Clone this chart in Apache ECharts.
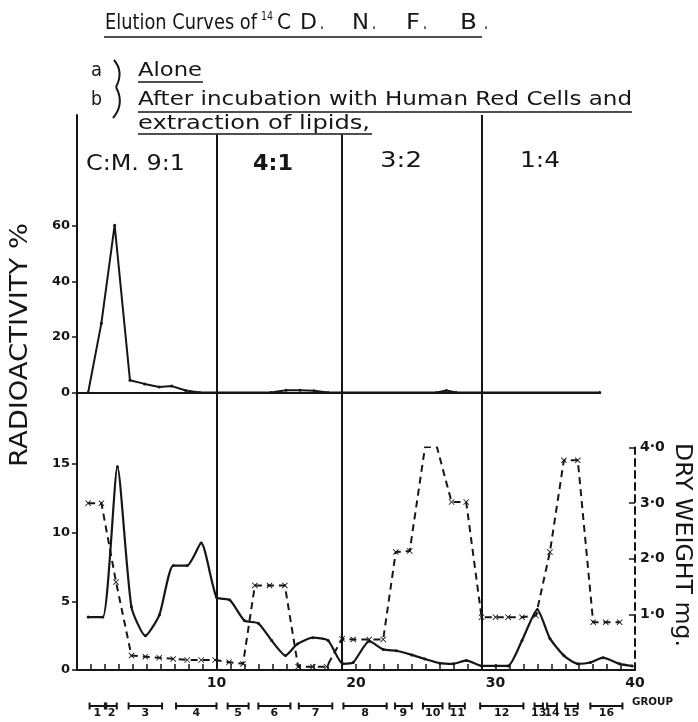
<!DOCTYPE html>
<html><head><meta charset="utf-8">
<script src="https://cdn.jsdelivr.net/npm/echarts@6/dist/echarts.min.js"></script>
<style>html,body{margin:0;padding:0;background:#fff}#c{width:698px;height:722px}</style>
</head><body><div id="c"></div>
<script>
// ---- data ----
// (a) alone: radioactivity % (upper panel)
const upperX = [0.8, 1.75, 2.7, 3.8, 4.85, 5.9, 6.8, 7.8, 8.8, 13.9, 15, 16, 17, 18, 25.8, 26.5, 27.2, 37.5];
const upperY = [0, 25, 60.3, 4.4, 3.1, 2.0, 2.3, 0.7, 0, 0, 0.8, 0.8, 0.6, 0, 0, 0.7, 0, 0];
// (b) after incubation: radioactivity % (lower panel, solid)
const solidX = [0.8, 1.85, 2.9, 3.9, 4.9, 5.9, 6.9, 7.9, 8.9, 10.0, 10.95, 12.0, 13.0, 13.95, 14.95, 15.8, 16.9, 18.0, 19.05, 19.8, 20.95, 21.95, 22.9, 24.0, 24.95, 26.0, 27.0, 27.9, 29.0, 30.0, 30.9, 31.9, 33.0, 33.9, 34.9, 35.9, 36.8, 37.7, 38.9, 39.8];
const solidY = [3.85, 3.85, 14.8, 4.6, 2.5, 4.0, 7.6, 7.6, 9.25, 5.3, 5.1, 3.6, 3.4, 2.15, 1.05, 1.9, 2.35, 2.15, 0.45, 0.55, 2.1, 1.5, 1.4, 1.1, 0.8, 0.5, 0.45, 0.7, 0.3, 0.3, 0.3, 2.15, 4.4, 2.3, 1.05, 0.45, 0.55, 0.9, 0.45, 0.3];
// dry weight mg (lower panel, dashed, right axis)
const dryX = [0.8, 1.75, 2.8, 3.9, 4.9, 5.9, 6.9, 7.9, 8.9, 9.9, 10.9, 11.9, 12.75, 13.8, 14.9, 15.85, 16.9, 17.9, 19.0, 19.8, 20.95, 21.95, 22.85, 23.85, 24.95, 25.8, 26.85, 27.9, 29.0, 30.0, 30.9, 31.9, 32.9, 33.9, 34.9, 35.9, 37.0, 37.9, 38.9];
const dryY = [3.0, 3.0, 1.58, 0.26, 0.24, 0.22, 0.2, 0.18, 0.18, 0.18, 0.14, 0.11, 1.52, 1.52, 1.52, 0.06, 0.06, 0.06, 0.56, 0.55, 0.55, 0.55, 2.12, 2.14, 4.01, 4.01, 3.02, 3.02, 0.95, 0.95, 0.95, 0.95, 0.98, 2.12, 3.77, 3.77, 0.86, 0.86, 0.86];
// solvent change dividers (fraction number) and their top (upper-panel units)
const dividerX = [10, 19, 29];
const dividerTop = [93, 93, 100];
const sectionLabels = ['C:M. 9:1', '4:1', '3:2', '1:4'];
// fraction groups
const groupNames = ['1','2','3','4','5','6','7','8','9','10','11','12','13','14','15','16'];
const groupStart = [0.9, 2.1, 3.7, 7.1, 10.8, 13.0, 15.9, 19.1, 22.8, 24.8, 26.7, 28.9, 32.8, 33.7, 35.0, 36.8];
const groupEnd   = [2.0, 2.85, 6.1, 10.0, 12.3, 15.3, 18.3, 22.2, 24.0, 26.2, 27.8, 32.0, 33.4, 34.4, 35.9, 39.1];
// tick labels
const xLabels = [10, 20, 30, 40];
const lowerLeftTicks = [0, 5, 10, 15];
const upperTicks = [0, 20, 40, 60];
const rightTicks = [1, 2, 3, 4];

// ---- drawing ----
const INK = '#161616';
const FONT = 'DejaVu Sans';
const mctx = document.createElement('canvas').getContext('2d');
function measure(text, size, weight) {
  mctx.font = (weight || 'normal') + ' ' + size + 'px "' + FONT + '"';
  return mctx.measureText(text).width;
}
function fitText(text, x, y, size, width, opts) {
  opts = opts || {};
  const w8 = opts.weight || 'normal';
  const w = measure(text, size, w8);
  return {
    type: 'text', x: x, y: y, rotation: opts.rotation || 0,
    scaleX: width ? width / w : 1,
    style: { text: text, fontSize: size, fontFamily: FONT, fontWeight: w8, fill: INK,
             align: opts.align || 'left', verticalAlign: 'middle' }
  };
}
function uline(x1, x2, y) {
  return { type: 'line', shape: { x1: x1, y1: y, x2: x2, y2: y }, style: { stroke: INK, lineWidth: 1.6 } };
}
function rotText(text, cx, cy, size, length, rotation) {
  const w = measure(text, size, 'normal');
  return { type: 'text', x: cx, y: cy, rotation: rotation, scaleX: length / w,
    style: { text: text, fontSize: size, fontFamily: FONT, fill: INK, align: 'center', verticalAlign: 'middle' } };
}
const xMark = 'path://M0,1L1,0L5,4L9,0L10,1L6,5L10,9L9,10L5,6L1,10L0,9L4,5Z';

// spaced lettering of "D.N.F.B."
const dnfbGlyphs = ['D', '.', 'N', '.', 'F', '.', 'B', '.'];
const dnfbLeft = [300, 320, 352, 372, 406, 423, 460, 484];
const dnfbWidth = [17, 4, 17, 4, 14, 4, 17, 4];

const chart = echarts.init(document.getElementById('c'), null, { renderer: 'canvas' });
const axisText = { color: INK, fontFamily: FONT, fontWeight: 'bold', fontSize: 13 };

const graphics = [
  fitText('Elution Curves of', 105, 24, 21, 152),
  fitText('14', 261, 17, 12, 12),
  fitText('C', 277, 24, 21, 14),
  uline(104, 482, 37),
  fitText('a', 91, 71, 20, 11),
  fitText('b', 91, 100, 20, 11),
  { type: 'bezierCurve', shape: { x1: 114, y1: 60, cpx1: 124, cpy1: 72, x2: 116, y2: 87 }, style: { stroke: INK, lineWidth: 2, fill: null } },
  { type: 'bezierCurve', shape: { x1: 116, y1: 87, cpx1: 125, cpy1: 104, x2: 113, y2: 118 }, style: { stroke: INK, lineWidth: 2, fill: null } },
  fitText('Alone', 138, 71, 20, 64),
  uline(138, 203, 82),
  fitText('After incubation with Human Red Cells and', 138, 100, 20, 494),
  uline(138, 632, 112),
  fitText('extraction of lipids,', 138, 124, 20, 232),
  uline(138, 372, 134),
  fitText(sectionLabels[0], 86, 165, 21, 99),
  fitText(sectionLabels[1], 253, 165, 21, 40, { weight: 'bold' }),
  fitText(sectionLabels[2], 380, 162, 21, 42),
  fitText(sectionLabels[3], 520, 162, 21, 40),
  rotText('RADIOACTIVITY %', 21, 345, 24, 244, Math.PI / 2),
  rotText('DRY WEIGHT mg.', 682, 545, 23, 204, -Math.PI / 2),
  fitText('GROUP', 632, 702, 10, 41, { weight: 'bold' })
];
dnfbGlyphs.forEach(function (g, i) { graphics.push(fitText(g, dnfbLeft[i], 24, 21, dnfbWidth[i])); });

const option = {
  backgroundColor: '#fff',
  animation: false,
  grid: [
    { left: 77, right: 63, top: 447.5, bottom: 52 },
    { left: 77, right: 98.25, top: 115, bottom: 52 }
  ],
  xAxis: [
    { type: 'value', gridIndex: 0, min: 0, max: 40, interval: 1,
      axisLine: { show: true, onZero: false, lineStyle: { color: INK, width: 2 } },
      axisTick: { show: true, inside: true, length: 6, lineStyle: { color: INK, width: 1.5 } },
      axisLabel: { customValues: xLabels, margin: 6, fontSize: 14, color: INK, fontFamily: FONT, fontWeight: 'bold' },
      splitLine: { show: false } },
    { type: 'value', gridIndex: 1, min: 0, max: 37.5,
      axisLine: { show: true, onZero: true, lineStyle: { color: INK, width: 2 } },
      axisTick: { show: false }, axisLabel: { show: false }, splitLine: { show: false } }
  ],
  yAxis: [
    { type: 'value', gridIndex: 0, min: 0, max: 16.2,
      axisLine: { show: false },
      axisTick: { show: true, customValues: lowerLeftTicks, length: 5, lineStyle: { color: INK, width: 1.5 } },
      axisLabel: Object.assign({ customValues: lowerLeftTicks, margin: 7 }, axisText),
      splitLine: { show: false } },
    { type: 'value', gridIndex: 0, position: 'right', min: 0, max: 4,
      axisLine: { show: true, lineStyle: { color: INK, width: 2, type: [7, 5] } },
      axisTick: { show: true, inside: true, customValues: rightTicks, length: 6, lineStyle: { color: INK, width: 1.5 } },
      axisLabel: { customValues: rightTicks, margin: 5, fontSize: 14, color: INK, fontFamily: FONT, fontWeight: 'bold',
        formatter: function (v) { return v.toFixed(1).replace('.', '\u00b7'); } },
      splitLine: { show: false } },
    { type: 'value', gridIndex: 1, min: -100, max: 100,
      axisLine: { show: true, lineStyle: { color: INK, width: 2 } },
      axisTick: { show: true, customValues: upperTicks, length: 5, lineStyle: { color: INK, width: 1.5 } },
      axisLabel: Object.assign({ customValues: upperTicks, margin: 7 }, axisText),
      splitLine: { show: false } }
  ],
  series: [
    { name: 'Alone', type: 'line', xAxisIndex: 1, yAxisIndex: 2,
      data: upperX.map(function (x, i) { return [x, upperY[i]]; }),
      symbol: 'circle', symbolSize: 3, showSymbol: true,
      itemStyle: { color: INK }, lineStyle: { color: INK, width: 2 },
      markLine: { silent: true, symbol: 'none', label: { show: false },
        lineStyle: { color: INK, width: 2, type: 'solid' },
        data: dividerX.map(function (x, i) { return [{ coord: [x, dividerTop[i]] }, { coord: [x, -100] }]; }) } },
    { name: 'Radioactivity', type: 'line', xAxisIndex: 0, yAxisIndex: 0,
      data: solidX.map(function (x, i) { return [x, solidY[i]]; }),
      smooth: 0.2, symbol: 'circle', symbolSize: 3,
      itemStyle: { color: INK }, lineStyle: { color: INK, width: 2.2 } },
    { name: 'Dry weight', type: 'line', xAxisIndex: 0, yAxisIndex: 1,
      data: dryX.map(function (x, i) { return [x, dryY[i]]; }),
      symbol: xMark, symbolSize: 6,
      itemStyle: { color: INK }, lineStyle: { color: INK, width: 2, type: [7, 5] } },
    { name: 'Groups', type: 'custom', xAxisIndex: 0, yAxisIndex: 0, clip: false,
      encode: { x: [0, 1], y: 2 },
      data: groupStart.map(function (s, i) { return [s, groupEnd[i], 0]; }),
      renderItem: function (params, api) {
        const p1 = api.coord([api.value(0), 0]);
        const p2 = api.coord([api.value(1), 0]);
        const y = p1[1] + 36;
        const st = { stroke: INK, lineWidth: 2 };
        return { type: 'group', children: [
          { type: 'line', shape: { x1: p1[0], y1: y, x2: p2[0], y2: y }, style: st },
          { type: 'line', shape: { x1: p1[0], y1: y - 3.5, x2: p1[0], y2: y + 3.5 }, style: st },
          { type: 'line', shape: { x1: p2[0], y1: y - 3.5, x2: p2[0], y2: y + 3.5 }, style: st },
          { type: 'text', style: { text: groupNames[params.dataIndex], x: (p1[0] + p2[0]) / 2, y: y + 2,
              align: 'center', verticalAlign: 'top', fontSize: 11, fontWeight: 'bold', fontFamily: FONT, fill: INK } }
        ] };
      } }
  ],
  graphic: graphics
};
chart.setOption(option);
</script>
</body></html>
